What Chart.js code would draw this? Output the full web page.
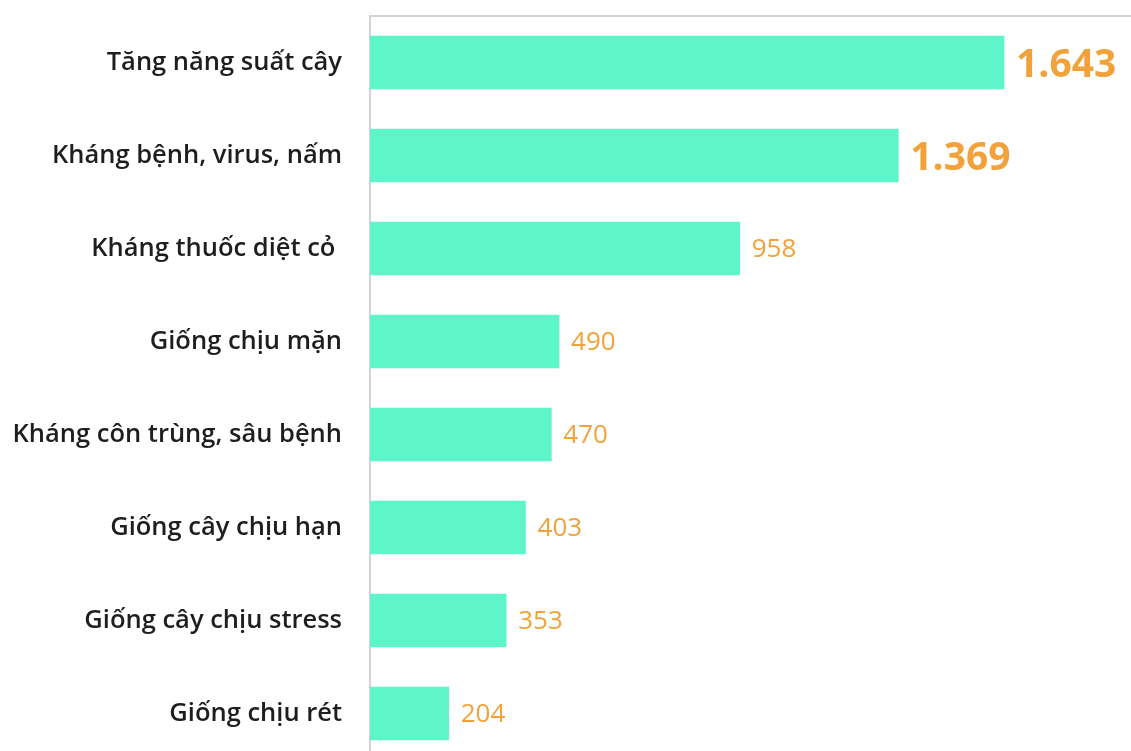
<!DOCTYPE html>
<html>
<head>
<meta charset="utf-8">
<script src="https://cdn.jsdelivr.net/npm/chart.js@4"></script>
<style>
  html, body { margin: 0; padding: 0; background: #fff; overflow: hidden; }
  #wrap { width: 1131px; height: 760px; position: relative; }
</style>
</head>
<body>
<div id="wrap"><canvas id="bar-chart"></canvas></div>
<script>
var categories = [
  'Tăng năng suất cây',
  'Kháng bệnh, virus, nấm',
  'Kháng thuốc diệt cỏ ',
  'Giống chịu mặn',
  'Kháng côn trùng, sâu bệnh',
  'Giống cây chịu hạn',
  'Giống cây chịu stress',
  'Giống chịu rét'
];
var counts = [1643, 1369, 958, 490, 470, 403, 353, 204];

function formatVN(n) {
  return String(n).replace(/\B(?=(\d{3})+(?!\d))/g, '.');
}

var valueLabels = {
  id: 'valueLabels',
  afterDatasetsDraw(chart) {
    var ctx = chart.ctx;
    var meta = chart.getDatasetMeta(0);
    ctx.save();
    ctx.fillStyle = '#F2A23A';
    ctx.textBaseline = 'middle';
    ctx.textAlign = 'left';
    meta.data.forEach(function (bar, i) {
      var v = counts[i];
      if (v >= 1000) {
        ctx.font = 'bold 39px "Open Sans"';
        ctx.fillText(formatVN(v), bar.x + 12, bar.y + 3);
      } else {
        ctx.font = '500 26px "Open Sans"';
        ctx.fillText(formatVN(v), bar.x + 12, bar.y + 1);
      }
    });
    ctx.restore();
  }
};

var myChart = new Chart('bar-chart', {
  type: 'bar',
  data: {
    labels: categories,
    datasets: [{
      data: counts,
      backgroundColor: '#5FF5CA',
      borderWidth: 0,
      barThickness: 53
    }]
  },
  options: {
    indexAxis: 'y',
    responsive: true,
    maintainAspectRatio: false,
    animation: false,
    layout: { padding: { top: 16, right: 0, bottom: 0, left: 0 } },
    plugins: {
      legend: { display: false },
      tooltip: { enabled: false }
    },
    scales: {
      x: {
        position: 'top',
        min: 0,
        max: 1972,
        afterFit(scale) { scale.height = 0; },
        ticks: { display: false },
        grid: { display: false, drawTicks: false },
        border: { display: true, color: '#d4d4d4', width: 2 }
      },
      y: {
        afterFit(scale) {
          scale.width = 370;
          scale.paddingTop = 0;
          scale.paddingBottom = 0;
        },
        ticks: {
          padding: 28,
          color: '#1e1e1e',
          font: { family: 'Open Sans', size: 25.5, weight: '600' }
        },
        grid: { display: false, drawTicks: false },
        border: { display: true, color: '#d4d4d4', width: 2 }
      }
    }
  },
  plugins: [valueLabels]
});
</script>
</body>
</html>
